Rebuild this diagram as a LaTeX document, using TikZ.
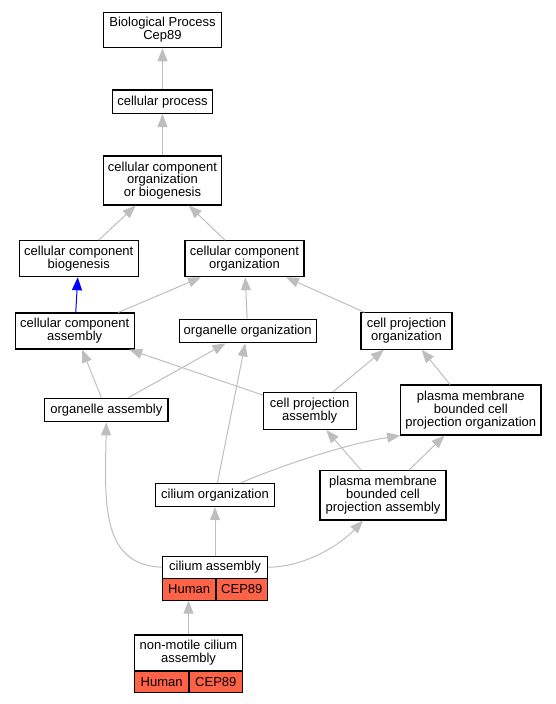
\documentclass[tikz,border=0pt]{standalone}
\usepackage{fontspec}
\setmainfont{Liberation Sans}
\usetikzlibrary{arrows.meta,calc}
\definecolor{edgegray}{RGB}{190,190,190}
\definecolor{tomatored}{RGB}{255,99,71}
\begin{document}
\begin{tikzpicture}[x=1pt,y=-1pt,
  box/.style={draw=black, line width=1.1pt, fill=white, inner sep=0pt, align=center,
    font=\fontsize{13pt}{12.8pt}\selectfont},
  cell/.style={box, fill=tomatored},
  edge/.style={draw=edgegray, line width=1pt, -{Triangle[length=13pt,width=10pt]}},
  blueedge/.style={edge, draw=blue}
]
\useasboundingbox (0,0) rectangle (556,704);
\node[box, minimum width=118pt, minimum height=35.5pt] (bp) at (162.5,30) {Biological Process\\Cep89};
\node[box, minimum width=100pt, minimum height=23.5pt] (cp) at (162.5,101.7) {cellular process};
\node[box, minimum width=118pt, minimum height=49pt] (cccob) at (162.5,180.5) {cellular component\\organization\\or biogenesis};
\node[box, minimum width=119pt, minimum height=36pt] (ccb) at (78.8,258.7) {cellular component\\biogenesis};
\node[box, minimum width=119pt, minimum height=36pt] (cco) at (244.5,258.7) {cellular component\\organization};
\node[box, minimum width=118.7pt, minimum height=36pt] (cca) at (74.7,331) {cellular component\\assembly};
\node[box, minimum width=136.7pt, minimum height=23.7pt] (oo) at (247.7,331) {organelle organization};
\node[box, minimum width=91pt, minimum height=36.3pt] (cpo) at (406.5,331) {cell projection\\organization};
\node[box, minimum width=123.3pt, minimum height=23.7pt] (oa) at (106.3,410) {organelle assembly};
\node[box, minimum width=92.7pt, minimum height=37pt] (cpa) at (309.7,411) {cell projection\\assembly};
\node[box, minimum width=140.3pt, minimum height=50pt] (pmbcpo) at (470.8,410) {plasma membrane\\bounded cell\\projection organization};
\node[box, minimum width=118.7pt, minimum height=23.3pt] (co) at (215,495) {cilium organization};
\node[box, minimum width=126pt, minimum height=49.3pt] (pmbcpa) at (383,495.3) {plasma membrane\\bounded cell\\projection assembly};
\node[box, minimum width=105.3pt, minimum height=22.3pt] (ca) at (215,567.2) {cilium assembly};
\node[cell, minimum width=53.7pt, minimum height=21.7pt] (cah) at (189.2,589.2) {Human};
\node[cell, minimum width=51.7pt, minimum height=21.7pt] (cac) at (241.8,589.2) {CEP89};
\node[box, minimum width=108.3pt, minimum height=36pt] (nm) at (188.5,653) {non-motile cilium\\assembly};
\node[cell, minimum width=54.7pt, minimum height=21.7pt] (nmh) at (161.7,681.8) {Human};
\node[cell, minimum width=53.7pt, minimum height=21.7pt] (nmc) at (215.8,681.8) {CEP89};

\draw[edge] (cp) -- (bp);
\draw[edge] (cccob) -- (cp);
\draw[edge] (ccb) -- (cccob);
\draw[edge] (cco) -- (cccob);
\draw[blueedge] (cca) -- (ccb);
\draw[edge] (cca) -- (cco);
\draw[edge] (oo) -- (cco);
\draw[edge] (cpo) -- (cco);
\draw[edge] (oa) -- (cca);
\draw[edge] (oa) -- (oo);
\draw[edge] (cpa) -- (cca);
\draw[edge] (cpa) -- (cpo);
\draw[edge] (pmbcpo) -- (cpo);
\draw[edge] (co) -- (oo);
\draw[edge] ([xshift=26pt]co.north) .. controls (270,470) and (340,445) .. (pmbcpo.south west);
\draw[edge] (pmbcpa) -- (cpa);
\draw[edge] (pmbcpa) -- (pmbcpo);
\draw[edge] (ca) -- (co);
\draw[edge] (ca.west) .. controls (100,565) and (105,500) .. (oa.south);
\draw[edge] (ca.east) .. controls (305,567) and (340,545) .. ([xshift=-20pt]pmbcpa.south);
\draw[edge] (nm.north) -- (nm.north |- cah.south);
\end{tikzpicture}
\end{document}
